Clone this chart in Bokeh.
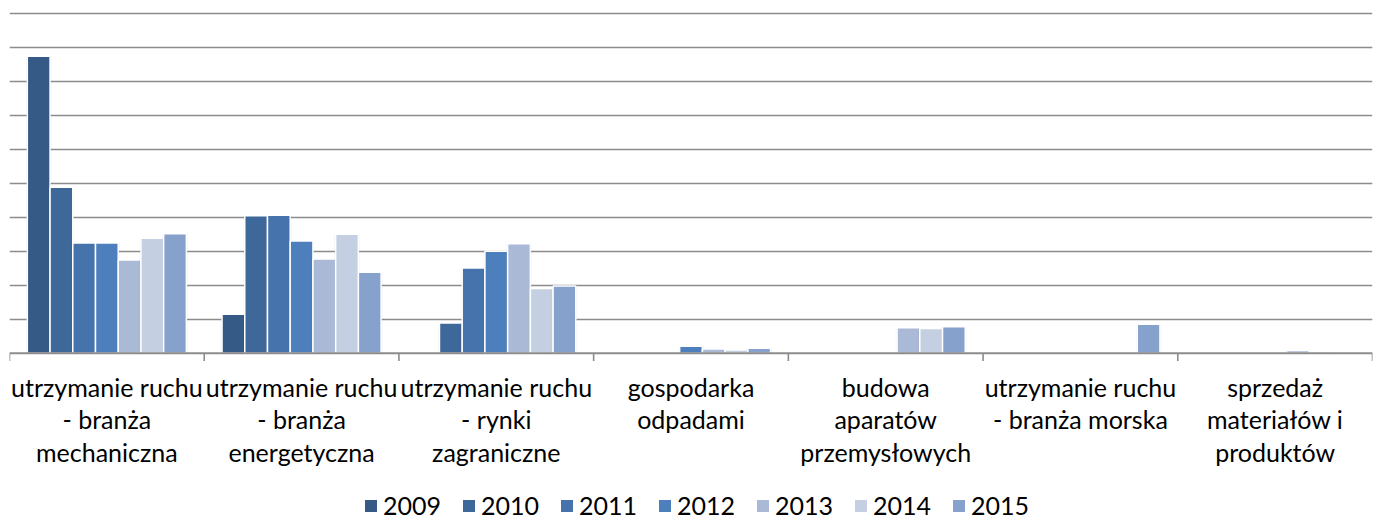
import numpy as np
from bokeh.plotting import figure
from bokeh.layouts import column
from bokeh.models import (ColumnDataSource, FixedTicker, Span, Legend, LegendItem, Range1d)
from bokeh.embed import file_html
from bokeh.resources import INLINE

categories = [
    "utrzymanie ruchu\n- branża\nmechaniczna",
    "utrzymanie ruchu\n- branża\nenergetyczna",
    "utrzymanie ruchu\n- rynki\nzagraniczne",
    "gospodarka\nodpadami",
    "budowa\naparatów\nprzemysłowych",
    "utrzymanie ruchu\n- branża morska",
    "sprzedaż\nmateriałów i\nproduktów",
]
years = ["2009", "2010", "2011", "2012", "2013", "2014", "2015"]
y2009 = [8.75, 1.15, 0, 0, 0, 0, 0]
y2010 = [4.89, 4.05, 0.89, 0, 0, 0, 0]
y2011 = [3.25, 4.07, 2.51, 0, 0, 0, 0]
y2012 = [3.25, 3.31, 3.01, 0.21, 0, 0, 0]
y2013 = [2.75, 2.78, 3.23, 0.13, 0.75, 0, 0.08]
y2014 = [3.39, 3.51, 1.91, 0.10, 0.73, 0, 0.05]
y2015 = [3.52, 2.39, 1.98, 0.15, 0.78, 0.86, 0]
series = [y2009, y2010, y2011, y2012, y2013, y2014, y2015]
colors = ["#345A85", "#3D6899", "#4673AC", "#4D7FBC", "#AAB9D6", "#C4CFE1", "#85A1CC"]

FONT = "Lato"
W = 1379

p = figure(width=W, height=488, output_backend="svg", toolbar_location=None,
           x_range=Range1d(-0.5, 6.5), y_range=Range1d(-0.3, 10.1),
           min_border_left=9, min_border_right=7, min_border_top=10, min_border_bottom=125)
p.outline_line_color = None
p.background_fill_color = "white"
p.border_fill_color = "white"

p.yaxis.visible = False
p.xgrid.visible = False
p.ygrid.ticker = FixedTicker(ticks=list(range(1, 11)))
p.ygrid.grid_line_color = "#8c8c8c"
p.ygrid.grid_line_width = 1.6

# baseline and category boundary ticks
p.add_layout(Span(location=0, dimension="width", line_color="#8c8c8c", line_width=2))
bounds = np.arange(len(categories) + 1) - 0.5
p.segment(x0=bounds, y0=np.zeros_like(bounds), x1=bounds, y1=np.full_like(bounds, -0.23),
          line_color="#8c8c8c", line_width=1.6)

slot = 0.1167
centers = np.arange(len(categories))
sources = []
for j, (yr, vals, col) in enumerate(zip(years, series, colors)):
    vals = np.array(vals, dtype=float)
    m = vals > 0
    xs = centers[m] + (j - 3) * slot
    src = ColumnDataSource(dict(x=xs, top=vals[m]))
    sources.append(src)
    # soft glow/shadow behind the bars
    p.vbar(x="x", top="top", width=slot * 1.12, bottom=0, source=src,
           fill_color="#000000", fill_alpha=0.05, line_color=None)
    p.vbar(x="x", top="top", width=slot, bottom=0, source=src,
           fill_color=col, line_color="white", line_width=1.5)

ax = p.xaxis[0]
ax.ticker = FixedTicker(ticks=list(range(len(categories))))
ax.major_label_overrides = {i: c for i, c in enumerate(categories)}
ax.axis_line_color = None
ax.major_tick_line_color = None
ax.minor_tick_line_color = None
ax.major_label_standoff = 2
ax.major_label_text_font = FONT
ax.major_label_text_font_size = "25px"
ax.major_label_text_color = "#000000"
ax.major_label_text_align = "center"
ax.major_label_text_line_height = 1.09

# legend strip (its renderers share the bar data but stay hidden)
q = figure(width=W, height=32, output_backend="svg", toolbar_location=None,
           x_range=Range1d(-0.5, 6.5), y_range=Range1d(0, 10), x_axis_type=None, y_axis_type=None,
           min_border=0)
q.outline_line_color = None
q.grid.visible = False
items = []
for yr, col, src in zip(years, colors, sources):
    r = q.vbar(x="x", top="top", width=slot, source=src, fill_color=col, line_color=None,
               visible=False)
    items.append(LegendItem(label=yr, renderers=[r]))
legend = Legend(items=items, orientation="horizontal", location=(354, 0),
                glyph_width=15, glyph_height=15, label_standoff=5, spacing=20,
                padding=0, margin=0, border_line_color=None, background_fill_alpha=0,
                inactive_fill_alpha=0,
                label_text_font=FONT, label_text_font_size="25px", label_text_color="#000000")
q.add_layout(legend, "center")

layout = column(p, q, spacing=0)
open("out.html", "w").write(file_html(layout, INLINE))
